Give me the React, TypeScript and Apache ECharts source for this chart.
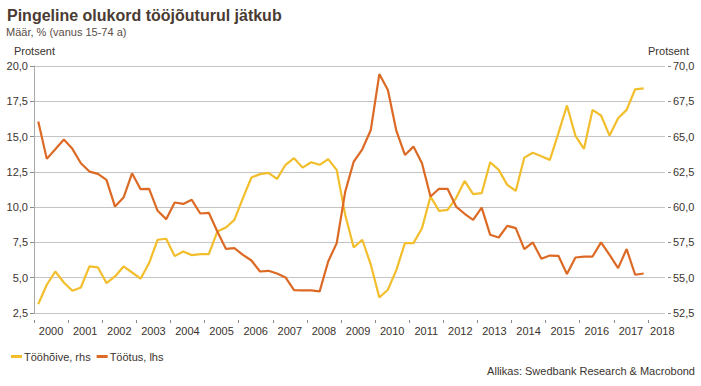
import React, { useEffect, useRef } from "react";
import * as echarts from "echarts";

// Quarterly observations, 2000Q1 .. 2017Q4
const years: number[] = [2000, 2001, 2002, 2003, 2004, 2005, 2006, 2007, 2008, 2009, 2010, 2011, 2012, 2013, 2014, 2015, 2016, 2017];
const quarters: number[] = [1, 2, 3, 4];
const yearTickLabels: number[] = [2000, 2001, 2002, 2003, 2004, 2005, 2006, 2007, 2008, 2009, 2010, 2011, 2012, 2013, 2014, 2015, 2016, 2017, 2018];

// Töötus, lhs (%)
const unemployment: number[] = [
  16.06, 13.42, 14.1, 14.79, 14.13, 13.11, 12.52, 12.36, 11.93, 10.04,
  10.68, 12.4, 11.27, 11.3, 9.74, 9.15, 10.33, 10.23, 10.52, 9.55,
  9.6, 8.27, 7.05, 7.1, 6.62, 6.22, 5.44, 5.49, 5.3, 5.02,
  4.12, 4.1, 4.1, 4.03, 6.15, 7.45, 11.1, 13.23, 14.1, 15.47,
  19.43, 18.3, 15.4, 13.7, 14.29, 13.11, 10.75, 11.3, 11.3, 10.04,
  9.53, 9.1, 9.97, 8.04, 7.85, 8.68, 8.51, 7.03, 7.5, 6.34,
  6.57, 6.55, 5.26, 6.43, 6.5, 6.5, 7.5, 6.62, 5.68, 7.03,
  5.21, 5.3,
];

// Tööhõive, rhs (%)
const employment: number[] = [
  53.13, 54.5, 55.44, 54.66, 54.08, 54.31, 55.8, 55.73, 54.62, 55.09,
  55.8, 55.37, 54.93, 56.04, 57.69, 57.76, 56.53, 56.86, 56.6, 56.67,
  56.67, 58.27, 58.56, 59.1, 60.64, 62.1, 62.34, 62.43, 62.0, 63.0,
  63.47, 62.8, 63.18, 63.0, 63.4, 62.64, 59.45, 57.14, 57.69, 55.92,
  53.6, 54.15, 55.56, 57.45, 57.45, 58.51, 60.75, 59.74, 59.81, 60.64,
  61.86, 60.92, 60.99, 63.18, 62.64, 61.58, 61.15, 63.51, 63.85, 63.6,
  63.35, 65.24, 67.2, 65.05, 64.13, 66.89, 66.49, 65.07, 66.3, 66.89,
  68.35, 68.42,
];

const X_MIN = 2000;
const X_MAX = 2018.5;

const YELLOW = "#F2BE2C";
const ORANGE = "#DC6A25";
const TEXT = "#3b332e";
const GRID = "#c4c4c4";
const FONT = "'Liberation Sans', Arial, sans-serif";

const fmt = (v: number) => v.toFixed(1).replace(".", ",");

export default function App() {
  const ref = useRef<HTMLDivElement>(null);

  useEffect(() => {
    if (!ref.current) return;
    const chart = echarts.init(ref.current, undefined, { renderer: "svg" });

    const xs: number[] = [];
    years.forEach((y) => quarters.forEach((q) => xs.push(y + (q - 0.5) / 4)));

    const empData = employment.map((v, i) => [xs[i], v]);
    const unData = unemployment.map((v, i) => [xs[i], v]);

    const labelPositions = yearTickLabels.map((y) => Math.min(y + 0.5, X_MAX - 0.08));

    chart.setOption({
      animation: false,
      textStyle: { fontFamily: FONT },
      grid: { left: 34, right: 36, top: 66, bottom: 73, containLabel: false },
      xAxis: {
        type: "value",
        min: X_MIN,
        max: X_MAX,
        position: "bottom",
        offset: 7,
        axisLine: { show: false },
        axisTick: {
          show: true,
          length: 3,
          customValues: yearTickLabels,
          lineStyle: { color: "#8a8a8a", width: 1 },
        },
        axisLabel: {
          show: true,
          customValues: labelPositions,
          formatter: (v: number) => String(Math.floor(v)),
          color: TEXT,
          fontSize: 11,
          fontFamily: FONT,
          margin: 5,
        },
        splitLine: { show: false },
      },
      yAxis: [
        {
          type: "value",
          min: 2.5,
          max: 20,
          interval: 2.5,
          position: "left",
          axisLine: { show: true, lineStyle: { color: "#a8a8a8", width: 1 } },
          axisTick: { show: true, length: 4, lineStyle: { color: "#8a8a8a" } },
          axisLabel: { formatter: fmt, color: TEXT, fontSize: 11, fontFamily: FONT, margin: 6 },
          splitLine: { show: true, lineStyle: { color: GRID, width: 1 } },
        },
        {
          type: "value",
          min: 52.5,
          max: 70,
          interval: 2.5,
          position: "right",
          offset: 3,
          axisLine: { show: false },
          axisTick: { show: true, length: 3, lineStyle: { color: "#8a8a8a" } },
          axisLabel: { formatter: fmt, color: TEXT, fontSize: 11, fontFamily: FONT, margin: 5 },
          splitLine: { show: false },
        },
      ],
      legend: {
        left: 6,
        top: 346,
        icon: "rect",
        itemWidth: 11,
        itemHeight: 3,
        itemGap: 6,
        textStyle: { color: TEXT, fontSize: 11, fontFamily: FONT, padding: [0, 0, 0, -3] },
        data: ["Tööhõive, rhs", "Töötus, lhs"],
      },
      graphic: [
        {
          type: "text",
          x: 7,
          y: 15,
          style: {
            text: "Pingeline olukord tööjõuturul jätkub",
            font: `bold 16px ${FONT}`,
            fill: "#4a3b33",
            verticalAlign: "middle",
          },
        },
        {
          type: "text",
          x: 6,
          y: 31.5,
          style: {
            text: "Määr, % (vanus 15-74 a)",
            font: `11px ${FONT}`,
            fill: "#5a4e47",
            verticalAlign: "middle",
          },
        },
        {
          type: "text",
          x: 14,
          y: 51,
          style: { text: "Protsent", font: `11px ${FONT}`, fill: TEXT, verticalAlign: "middle" },
        },
        {
          type: "text",
          x: 689,
          y: 51,
          style: { text: "Protsent", font: `11px ${FONT}`, fill: TEXT, verticalAlign: "middle", align: "right" },
        },
        {
          type: "text",
          x: 695,
          y: 371,
          style: {
            text: "Allikas: Swedbank Research & Macrobond",
            font: `11px ${FONT}`,
            fill: TEXT,
            verticalAlign: "middle",
            align: "right",
          },
        },
      ],
      series: [
        {
          name: "Tööhõive, rhs",
          type: "line",
          yAxisIndex: 1,
          data: empData,
          showSymbol: false,
          color: YELLOW,
          lineStyle: { color: YELLOW, width: 2.2 },
          z: 2,
        },
        {
          name: "Töötus, lhs",
          type: "line",
          yAxisIndex: 0,
          data: unData,
          showSymbol: false,
          color: ORANGE,
          lineStyle: { color: ORANGE, width: 2.2 },
          z: 3,
        },
      ],
    });

    return () => chart.dispose();
  }, []);

  return (
    <div
      ref={ref}
      style={{ position: "fixed", left: 0, top: 0, width: 701, height: 386, background: "#fff" }}
    />
  );
}
